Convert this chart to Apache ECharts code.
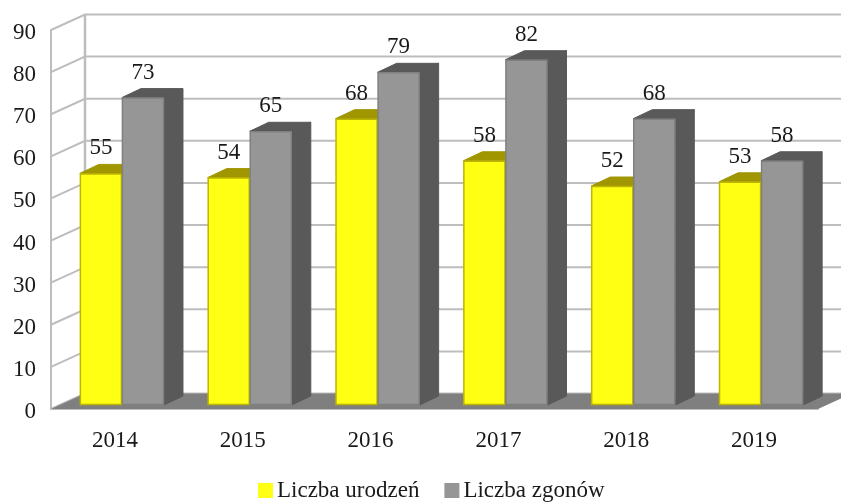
<!DOCTYPE html>
<html>
<head>
<meta charset="utf-8">
<style>
  html, body { margin: 0; padding: 0; background: #fff; }
  #chart { width: 841px; height: 502px; }
</style>
<script src="https://cdn.jsdelivr.net/npm/echarts@6/dist/echarts.min.js"></script>
</head>
<body>
<div id="chart"></div>
<script>
const years = ['2014', '2015', '2016', '2017', '2018', '2019'];
const births = [55, 54, 68, 58, 52, 53];
const deaths = [73, 65, 79, 82, 68, 58];
const yTicks = [0, 10, 20, 30, 40, 50, 60, 70, 80, 90];

const FONT = '"Liberation Serif", serif';
const WALL_DX = 34, WALL_DY = -15.5;   // depth of the chart box
const BAR_DX = 19, BAR_DY = -9;        // depth of one bar
const PLANE_DX = 7, PLANE_DY = -4;     // bars stand a little behind the front edge

const chart = echarts.init(document.getElementById('chart'), null, { renderer: 'canvas' });

function renderWall(params, api) {
  const cs = params.coordSys;
  const p = api.coord([0, api.value(1)]);
  const left = cs.x, right = cs.x + cs.width;
  const children = [{
    type: 'polyline',
    shape: { points: [[left, p[1]], [left + WALL_DX, p[1] + WALL_DY], [right + WALL_DX, p[1] + WALL_DY]] },
    style: { fill: null, stroke: '#BDBDBD', lineWidth: 2 }
  }];
  if (api.value(1) === 0) {
    children.push({
      type: 'polygon',
      shape: { points: [[left, p[1]], [left + WALL_DX, p[1] + WALL_DY], [right + WALL_DX, p[1] + WALL_DY], [right, p[1]]] },
      style: { fill: '#7F7F7F' }
    });
    children.push({
      type: 'line',
      shape: { x1: left + WALL_DX, y1: cs.y + WALL_DY, x2: left + WALL_DX, y2: p[1] + WALL_DY },
      style: { stroke: '#BDBDBD', lineWidth: 2.5 }
    });
  }
  return { type: 'group', children: children };
}

function barRenderer(slot, front, border, top, side) {
  return function (params, api) {
    const band = api.size([1, 0])[0];
    const w = band * 0.329;
    const c = api.coord([api.value(0), api.value(1)]);
    const base = api.coord([api.value(0), 0]);
    const x = c[0] + PLANE_DX + slot * w;
    const y = c[1] + PLANE_DY;
    const y0 = base[1] + PLANE_DY;
    return {
      type: 'group',
      children: [
        {
          type: 'polygon',
          shape: { points: [[x, y], [x + BAR_DX, y + BAR_DY], [x + w + BAR_DX, y + BAR_DY], [x + w, y]] },
          style: { fill: top, stroke: top, lineWidth: 1, lineJoin: 'round' }
        },
        {
          type: 'polygon',
          shape: { points: [[x + w, y], [x + w + BAR_DX, y + BAR_DY], [x + w + BAR_DX, y0 + BAR_DY], [x + w, y0]] },
          style: { fill: side, stroke: side, lineWidth: 1, lineJoin: 'round' }
        },
        {
          type: 'rect',
          shape: { x: x + 0.5, y: y + 0.5, width: w - 1, height: y0 - y - 1 },
          style: { fill: front, stroke: border, lineWidth: 1.5 }
        },
        {
          type: 'text',
          x: x + w / 2,
          y: y - 25,
          style: {
            text: String(api.value(1)),
            font: '23px ' + FONT,
            fill: '#1a1a1a',
            align: 'center',
            verticalAlign: 'middle'
          }
        }
      ]
    };
  };
}

const option = {
  animation: false,
  backgroundColor: '#fff',
  grid: { left: 51, right: 23, top: 30, bottom: 93 },
  legend: {
    data: ['Liczba urodzeń', 'Liczba zgonów'],
    left: 258,
    top: 479,
    padding: 0,
    icon: 'rect',
    itemWidth: 15,
    itemHeight: 15,
    itemGap: 25,
    selectedMode: false,
    textStyle: { fontFamily: FONT, fontSize: 23, color: '#1a1a1a', padding: [0, 0, 0, -1] }
  },
  xAxis: {
    type: 'category',
    data: years,
    boundaryGap: true,
    axisTick: { show: false },
    axisLine: { show: true, onZero: false, lineStyle: { color: '#BDBDBD', width: 2 } },
    axisLabel: { fontFamily: FONT, fontSize: 23, color: '#1a1a1a', margin: 20 },
    splitLine: { show: false }
  },
  yAxis: {
    type: 'value',
    min: 0,
    max: 90,
    interval: 10,
    axisTick: { show: false },
    axisLine: { show: true, lineStyle: { color: '#BDBDBD', width: 2 } },
    axisLabel: { fontFamily: FONT, fontSize: 23, color: '#1a1a1a', margin: 15, verticalAlign: 'top', lineHeight: 6 },
    splitLine: { show: false }
  },
  series: [
    {
      name: 'wall',
      type: 'custom',
      silent: true,
      clip: false,
      z: 1,
      data: yTicks.map(function (t) { return [0, t]; }),
      encode: { x: 0, y: 1 },
      renderItem: renderWall
    },
    {
      name: 'Liczba urodzeń',
      type: 'custom',
      clip: false,
      z: 2,
      itemStyle: { color: '#FFFF14' },
      data: births.map(function (v, i) { return [i, v]; }),
      encode: { x: 0, y: 1 },
      renderItem: barRenderer(-1, '#FFFF14', '#BDB500', '#A09600', '#8A8200')
    },
    {
      name: 'Liczba zgonów',
      type: 'custom',
      clip: false,
      z: 3,
      itemStyle: { color: '#969696' },
      data: deaths.map(function (v, i) { return [i, v]; }),
      encode: { x: 0, y: 1 },
      renderItem: barRenderer(0, '#969696', '#808080', '#595959', '#595959')
    }
  ]
};

chart.setOption(option);
</script>
</body>
</html>
